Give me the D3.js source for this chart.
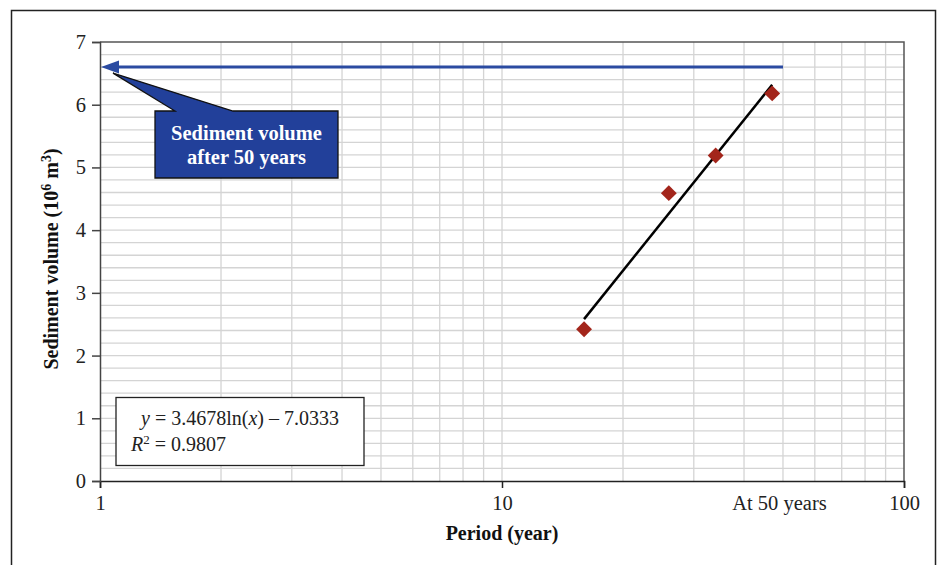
<!DOCTYPE html>
<html><head><meta charset="utf-8">
<script src="https://cdn.jsdelivr.net/npm/d3@7/dist/d3.min.js"></script>
<style>body{margin:0;background:#fff;} svg{display:block;font-family:"Liberation Serif","DejaVu Serif",serif;}</style>
</head><body>
<svg id="c" width="941" height="565"></svg>
<script>
// Data
const periods = [16, 26, 34, 47];
const volumes = [2.42, 4.59, 5.19, 6.18];
const yTicks = [0, 1, 2, 3, 4, 5, 6, 7];
const xTickValues = [1, 10, 50, 100];
const xTickLabels = ["1", "10", "At 50 years", "100"];
const trendSlope = 3.4678, trendIntercept = -7.0333, rSquared = 0.9807;
const trendRange = [16, 47];
const targetYear = 50, targetVolume = 6.6;

const svg = d3.select("#c");
const m = {l:100, r:904, t:42, b:481};
const x = d3.scaleLog().domain([1,100]).range([m.l, m.r]);
const y = d3.scaleLinear().domain([0,7]).range([m.b, m.t]);
const FS = 20.5;

// outer frame
svg.append("rect").attr("x",11.5).attr("y",10.5).attr("width",924).attr("height",570)
  .attr("fill","none").attr("stroke","#222").attr("stroke-width",1.5);

// grid
const g = svg.append("g");
const minorX = [];
for (const d of [1,10]) for (let k=2;k<=9;k++) minorX.push(d*k);
minorX.push(10);
g.selectAll(".vx").data(minorX).join("line")
  .attr("x1",d=>x(d)).attr("x2",d=>x(d)).attr("y1",m.t).attr("y2",m.b)
  .attr("stroke","#d4d4d4").attr("stroke-width",1.3);
const minorY = d3.range(1,35).map(i=>i*0.2);
g.selectAll(".hy").data(minorY).join("line")
  .attr("x1",m.l).attr("x2",m.r).attr("y1",d=>y(d)).attr("y2",d=>y(d))
  .attr("stroke","#d4d4d4").attr("stroke-width",1.3);

// plot border top/right
svg.append("path").attr("d",`M${m.l},${m.t}H${m.r}V${m.b}`).attr("fill","none")
  .attr("stroke","#555").attr("stroke-width",1.5);

// axes
const xAxis = d3.axisBottom(x).tickValues(xTickValues).tickSize(7)
  .tickFormat((d,i)=>xTickLabels[i]);
const xa = svg.append("g").attr("transform",`translate(0,${m.b})`).call(xAxis);
xa.select(".domain").attr("stroke","#222").attr("stroke-width",1.5);
xa.selectAll(".tick line").attr("stroke","#222").attr("stroke-width",1.5)
  .attr("opacity",(d)=>d===50?0:1);
xa.selectAll(".tick text").attr("font-size",FS).attr("fill","#222")
  .attr("font-family","Liberation Serif").attr("y",14).attr("dy","0.71em")
  .attr("dx",(d)=>d===50?-4:0);

const yAxis = d3.axisLeft(y).tickValues(yTicks).tickSize(8).tickFormat(d3.format("d"));
const ya = svg.append("g").attr("transform",`translate(${m.l},0)`).call(yAxis);
ya.select(".domain").attr("stroke","#444").attr("stroke-width",1.5);
ya.selectAll(".tick line").attr("stroke","#444").attr("stroke-width",1.5);
ya.selectAll(".tick text").attr("font-size",FS).attr("fill","#222")
  .attr("font-family","Liberation Serif").attr("x",-14);

// axis titles
svg.append("text").attr("x",502).attr("y",540).attr("text-anchor","middle")
  .attr("font-size",FS-0.5).attr("font-weight","bold").attr("fill","#111").text("Period (year)");
const yt = svg.append("text").attr("transform","translate(58,259) rotate(-90)")
  .attr("text-anchor","middle").attr("font-size",FS-0.5).attr("font-weight","bold").attr("fill","#111");
yt.append("tspan").text("Sediment volume (10");
yt.append("tspan").attr("dy",-7).attr("font-size",14).text("6");
yt.append("tspan").attr("dy",7).text(" m");
yt.append("tspan").attr("dy",-7).attr("font-size",14).text("3");
yt.append("tspan").attr("dy",7).text(")");

// trendline
const tl = d3.line().x(d=>x(d)).y(d=>y(trendSlope*Math.log(d)+trendIntercept));
svg.append("path").attr("d",tl(trendRange)).attr("stroke","#000").attr("stroke-width",2.5).attr("fill","none");

// points
svg.selectAll(".pt").data(periods.map((p,i)=>[p,volumes[i]])).join("path")
  .attr("d",d3.symbol().type(d3.symbolDiamond2).size(160)())
  .attr("transform",d=>`translate(${x(d[0])},${y(d[1])})`)
  .attr("fill","#a3251b");

// blue arrow
const ay = y(targetVolume);
svg.append("line").attr("x1",x(1)+16).attr("x2",x(targetYear)).attr("y1",ay).attr("y2",ay)
  .attr("stroke","#2b4ba1").attr("stroke-width",3);
svg.append("path").attr("d",`M${x(1)+1},${ay}L${x(1)+19},${ay-6.5}L${x(1)+19},${ay+6.5}Z`).attr("fill","#2b4ba1");

// callout
const cb = {x0:155, x1:338, y0:111, y1:178};
svg.append("path")
  .attr("d",`M${cb.x0},${cb.y0}H175L113,${ay+6}L233,${cb.y0}H${cb.x1}V${cb.y1}H${cb.x0}Z`)
  .attr("fill","#22409a").attr("stroke","#111").attr("stroke-width",1.3);
svg.append("text").attr("x",246.5).attr("y",140).attr("text-anchor","middle").attr("fill","#fff")
  .attr("font-size",FS).attr("font-weight","bold").text("Sediment volume");
svg.append("text").attr("x",246.5).attr("y",164).attr("text-anchor","middle").attr("fill","#fff")
  .attr("font-size",FS).attr("font-weight","bold").text("after 50 years");

// equation box
svg.append("rect").attr("x",116).attr("y",397.5).attr("width",248).attr("height",68)
  .attr("fill","#fff").attr("stroke","#222").attr("stroke-width",1.3);
const e1 = svg.append("text").attr("x",141).attr("y",425).attr("font-size",FS-0.5).attr("fill","#222")
  .attr("xml:space","preserve");
e1.append("tspan").attr("font-style","italic").text("y");
e1.append("tspan").text(" = " + trendSlope.toFixed(4) + "ln(");
e1.append("tspan").attr("font-style","italic").text("x");
e1.append("tspan").text(") \u2013 " + Math.abs(trendIntercept).toFixed(4));
const e2 = svg.append("text").attr("x",131).attr("y",451).attr("font-size",FS-0.5).attr("fill","#222");
e2.append("tspan").attr("font-style","italic").text("R");
e2.append("tspan").attr("dy",-7).attr("font-size",13).text("2");
e2.append("tspan").attr("dy",7).text(" = " + rSquared.toFixed(4));
</script>
</body></html>
